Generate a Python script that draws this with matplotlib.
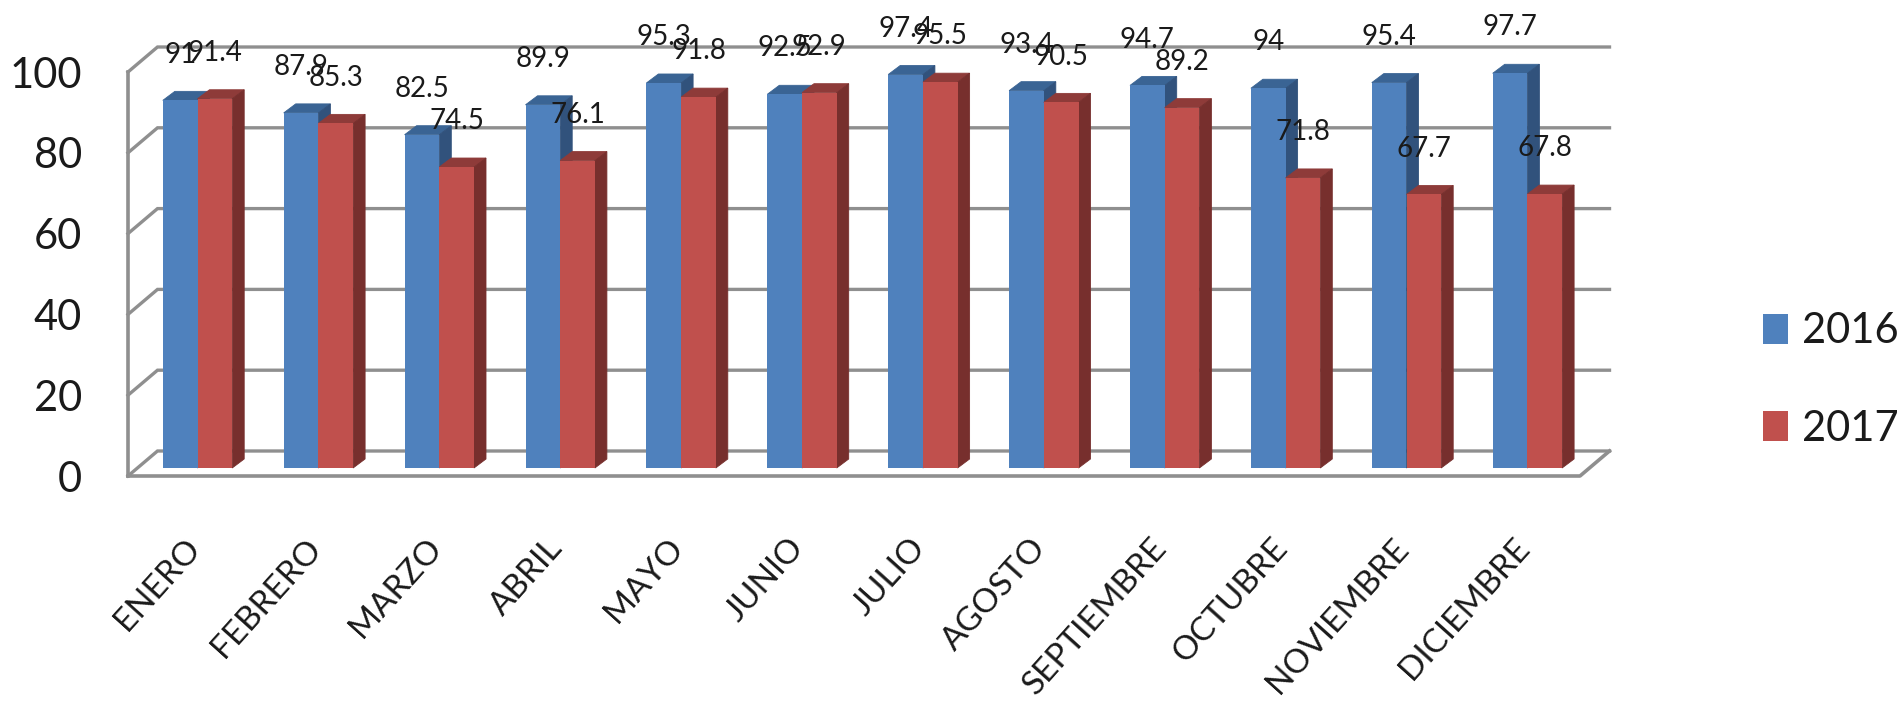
import matplotlib
matplotlib.use('Agg')
import matplotlib.pyplot as plt
from matplotlib.transforms import ScaledTranslation
import numpy as np

meses = ['ENERO', 'FEBRERO', 'MARZO', 'ABRIL', 'MAYO', 'JUNIO', 'JULIO', 'AGOSTO',
         'SEPTIEMBRE', 'OCTUBRE', 'NOVIEMBRE', 'DICIEMBRE']
v2016 = [91, 87.9, 82.5, 89.9, 95.3, 92.5, 97.4, 93.4, 94.7, 94, 95.4, 97.7]
v2017 = [91.4, 85.3, 74.5, 76.1, 91.8, 92.9, 95.5, 90.5, 89.2, 71.8, 67.7, 67.8]
yticks = [0, 20, 40, 60, 80, 100]

plt.rcParams['font.family'] = ['Lato', 'DejaVu Sans']

W, H = 1902, 705
fig = plt.figure(figsize=(W / 100, H / 100), dpi=100)
# front wall of the fake 3d box, in pixels
left, right, bottom, top = 128, 1580, 476, 72
ax = fig.add_axes([left / W, 1 - bottom / H, (right - left) / W, (bottom - top) / H])

px_x = 120.9   # pixels per category
px_y = (bottom - top) / 100.0   # pixels per unit
ax.set_xlim((left - 197.5) / px_x, (right - 197.5) / px_x)
ax.set_ylim(0, 100)

# wall and floor depth, bar depth, all in data units
wall_x, wall_y = 29.5 / px_x, 25 / px_y
deep_x, deep_y = 12 / px_x, 9 / px_y
base = 8 / px_y
bar_w = 34.7 / px_x
x0, x1 = ax.get_xlim()

gris = '#8f8f8f'
for t in yticks:
    ax.plot([x0, x0 + wall_x, x1 + wall_x], [t, t + wall_y, t + wall_y], color=gris, lw=2.4,
            clip_on=False, zorder=1, solid_joinstyle='miter')
ax.plot([x0, x0], [0, 100], color=gris, lw=2.6, clip_on=False, zorder=1)
ax.plot([x0, x1, x1 + wall_x], [0, 0, wall_y], color=gris, lw=2.6, clip_on=False, zorder=1)

x = np.arange(len(meses))


def barras(xs, vals, color, c_top, c_side, z):
    ax.bar(xs, vals, bar_w, bottom=base, color=color, align='edge', zorder=z + 1, clip_on=False)
    for xi, v in zip(xs, vals):
        h = v + base
        ax.fill([xi, xi + bar_w, xi + bar_w + deep_x, xi + deep_x],
                [h, h, h + deep_y, h + deep_y], color=c_top, lw=0.6, zorder=z, clip_on=False)
        ax.fill([xi + bar_w, xi + bar_w + deep_x, xi + bar_w + deep_x, xi + bar_w],
                [base, base + deep_y, h + deep_y, h], color=c_side, lw=0.6, zorder=z, clip_on=False)
        ax.annotate(str(v), (xi + bar_w / 2, h), xytext=(0, 33), textcoords='offset points',
                    ha='center', va='center', fontsize=20, color='#1a1a1a', zorder=10,
                    annotation_clip=False)


barras(x - bar_w, v2016, '#4f81bd', '#3a6494', '#31527c', 2)
barras(x, v2017, '#c0504d', '#8e3b39', '#772f2d', 4)

ax.set_xticks(x)
ax.set_xticklabels(meses, rotation=48, ha='right', va='top', rotation_mode='anchor',
                   fontsize=24, color='#1a1a1a')
ax.set_yticks(yticks)
ax.set_yticklabels([str(t) for t in yticks], fontsize=30, color='#1a1a1a')
ax.tick_params(axis='x', length=0, pad=41)
ax.tick_params(axis='y', length=0, pad=33)
corr = ScaledTranslation(-14 / 100, 0, fig.dpi_scale_trans)
for lab in ax.get_xticklabels():
    lab.set_transform(lab.get_transform() + corr)
for s in ax.spines.values():
    s.set_visible(False)
ax.patch.set_alpha(0)

h1 = plt.Rectangle((0, 0), 1, 1, color='#4f81bd', lw=0)
h2 = plt.Rectangle((0, 0), 1, 1, color='#c0504d', lw=0)
fig.legend([h1, h2], ['2016', '2017'], loc='center left', bbox_to_anchor=(1763 / W, 1 - 380 / H),
           frameon=False, fontsize=30, handlelength=0.6, handleheight=0.74, handletextpad=0.33,
           labelspacing=1.43, borderpad=0, borderaxespad=0, labelcolor='#1a1a1a')

fig.savefig('out.png', dpi=100)
